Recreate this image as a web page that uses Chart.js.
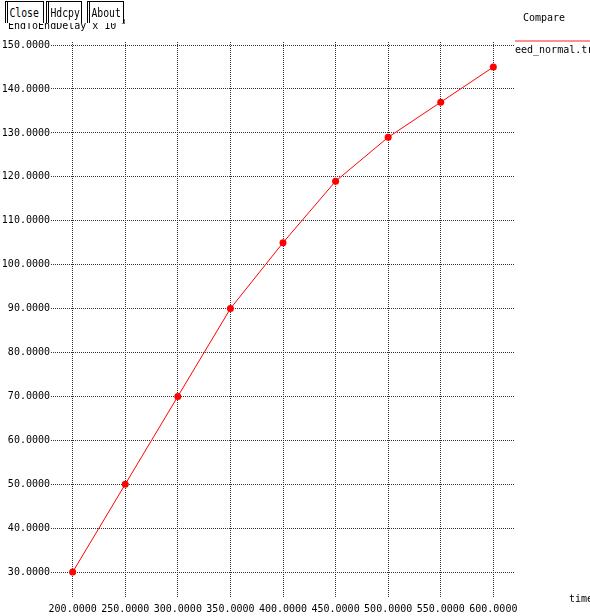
<!DOCTYPE html>
<html>
<head>
<meta charset="utf-8">
<script src="https://cdn.jsdelivr.net/npm/chart.js@4.4.0/dist/chart.umd.min.js"></script>
<style>
body{margin:0;background:#fff;overflow:hidden}
#wrap{position:relative;width:590px;height:616px;overflow:hidden}
#plot{position:absolute;left:0;top:0}
.btn{position:absolute;top:1px;height:21px;background:#fff;border:1px solid #000;border-left:3px double #000;border-bottom:none;
  font:13px "DejaVu Sans Mono",monospace;line-height:21px;color:#000;overflow:hidden;white-space:nowrap}
.btn span{display:inline-block;transform:scaleX(0.75);transform-origin:left center;padding-left:2px}
</style>
</head>
<body>
<div id="wrap">
  <canvas id="plot" width="590" height="616"></canvas>
  <div class="btn" style="left:5px;width:35px"><span>Close</span></div>
  <div class="btn" style="left:46px;width:32px"><span>Hdcpy</span></div>
  <div class="btn" style="left:87px;width:33px"><span>About</span></div>
</div>
<script>
var sizes = [200, 250, 300, 350, 400, 450, 500, 550, 600];
var delay = [30, 50, 70, 90, 105, 119, 129, 137, 145];
var xTicks = [200, 250, 300, 350, 400, 450, 500, 550, 600];
var yTicks = [30, 40, 50, 60, 70, 80, 90, 100, 110, 120, 130, 140, 150];
var yTitle = 'EndToEndDelay x 10';
var xTitle = 'time';
var setName = 'eed_normal.tr';
var header = 'Compare';

var mono = '"DejaVu Sans Mono", monospace';

// labels, legend entry and header drawn after the chart
var extras = {
  id: 'extras',
  afterDraw: function(chart){
    var c = chart.ctx;
    c.save();
    c.fillStyle = '#000';
    c.font = '10px ' + mono;
    c.textBaseline = 'middle';
    c.textAlign = 'left';
    c.fillText(yTitle, 8, 26);
    c.font = '7px ' + mono;
    c.fillText('-3', 117, 22);
    c.font = '10px ' + mono;
    c.fillText(header, 523, 18);
    c.fillText(setName, 515, 50);
    c.fillText(xTitle, 569, 599);
    c.strokeStyle = '#ff2020';
    c.lineWidth = 1.2;
    c.beginPath();
    c.moveTo(515, 41);
    c.lineTo(590, 41);
    c.stroke();
    c.restore();
  }
};

var ctx = document.getElementById('plot').getContext('2d');
var myChart = new Chart(ctx, {
  type: 'scatter',
  data: {
    datasets: [{
      data: sizes.map(function(s, i){ return {x: s, y: delay[i]}; }),
      showLine: true,
      borderColor: '#ff0000',
      backgroundColor: '#ff0000',
      borderWidth: 1,
      pointRadius: 3.5,
      pointBorderWidth: 0,
      tension: 0
    }]
  },
  options: {
    responsive: false,
    animation: false,
    layout: {padding: {left: 0, right: 75, top: 42, bottom: 0}},
    plugins: {legend: {display: false}, tooltip: {enabled: false}},
    scales: {
      x: {
        type: 'linear',
        min: 179.4,
        max: 620.6,
        afterBuildTicks: function(s){ s.ticks = xTicks.map(function(v){ return {value: v}; }); },
        afterFit: function(s){ s.height = 18; },
        ticks: {
          color: '#000',
          font: {family: mono, size: 10},
          padding: 5,
          maxRotation: 0,
          autoSkip: false,
          callback: function(v){ return Number(v).toFixed(4); }
        },
        grid: {color: '#333', lineWidth: 1, drawTicks: false},
        border: {display: false, dash: [1, 1]}
      },
      y: {
        type: 'linear',
        min: 24.1,
        max: 150.7,
        afterBuildTicks: function(s){ s.ticks = yTicks.map(function(v){ return {value: v}; }); },
        afterFit: function(s){ s.width = 51; },
        ticks: {
          color: '#000',
          font: {family: mono, size: 10},
          padding: 1,
          autoSkip: false,
          callback: function(v){ return Number(v).toFixed(4); }
        },
        grid: {color: '#333', lineWidth: 1, drawTicks: false},
        border: {display: false, dash: [1, 1]}
      }
    }
  },
  plugins: [extras]
});
</script>
</body>
</html>
